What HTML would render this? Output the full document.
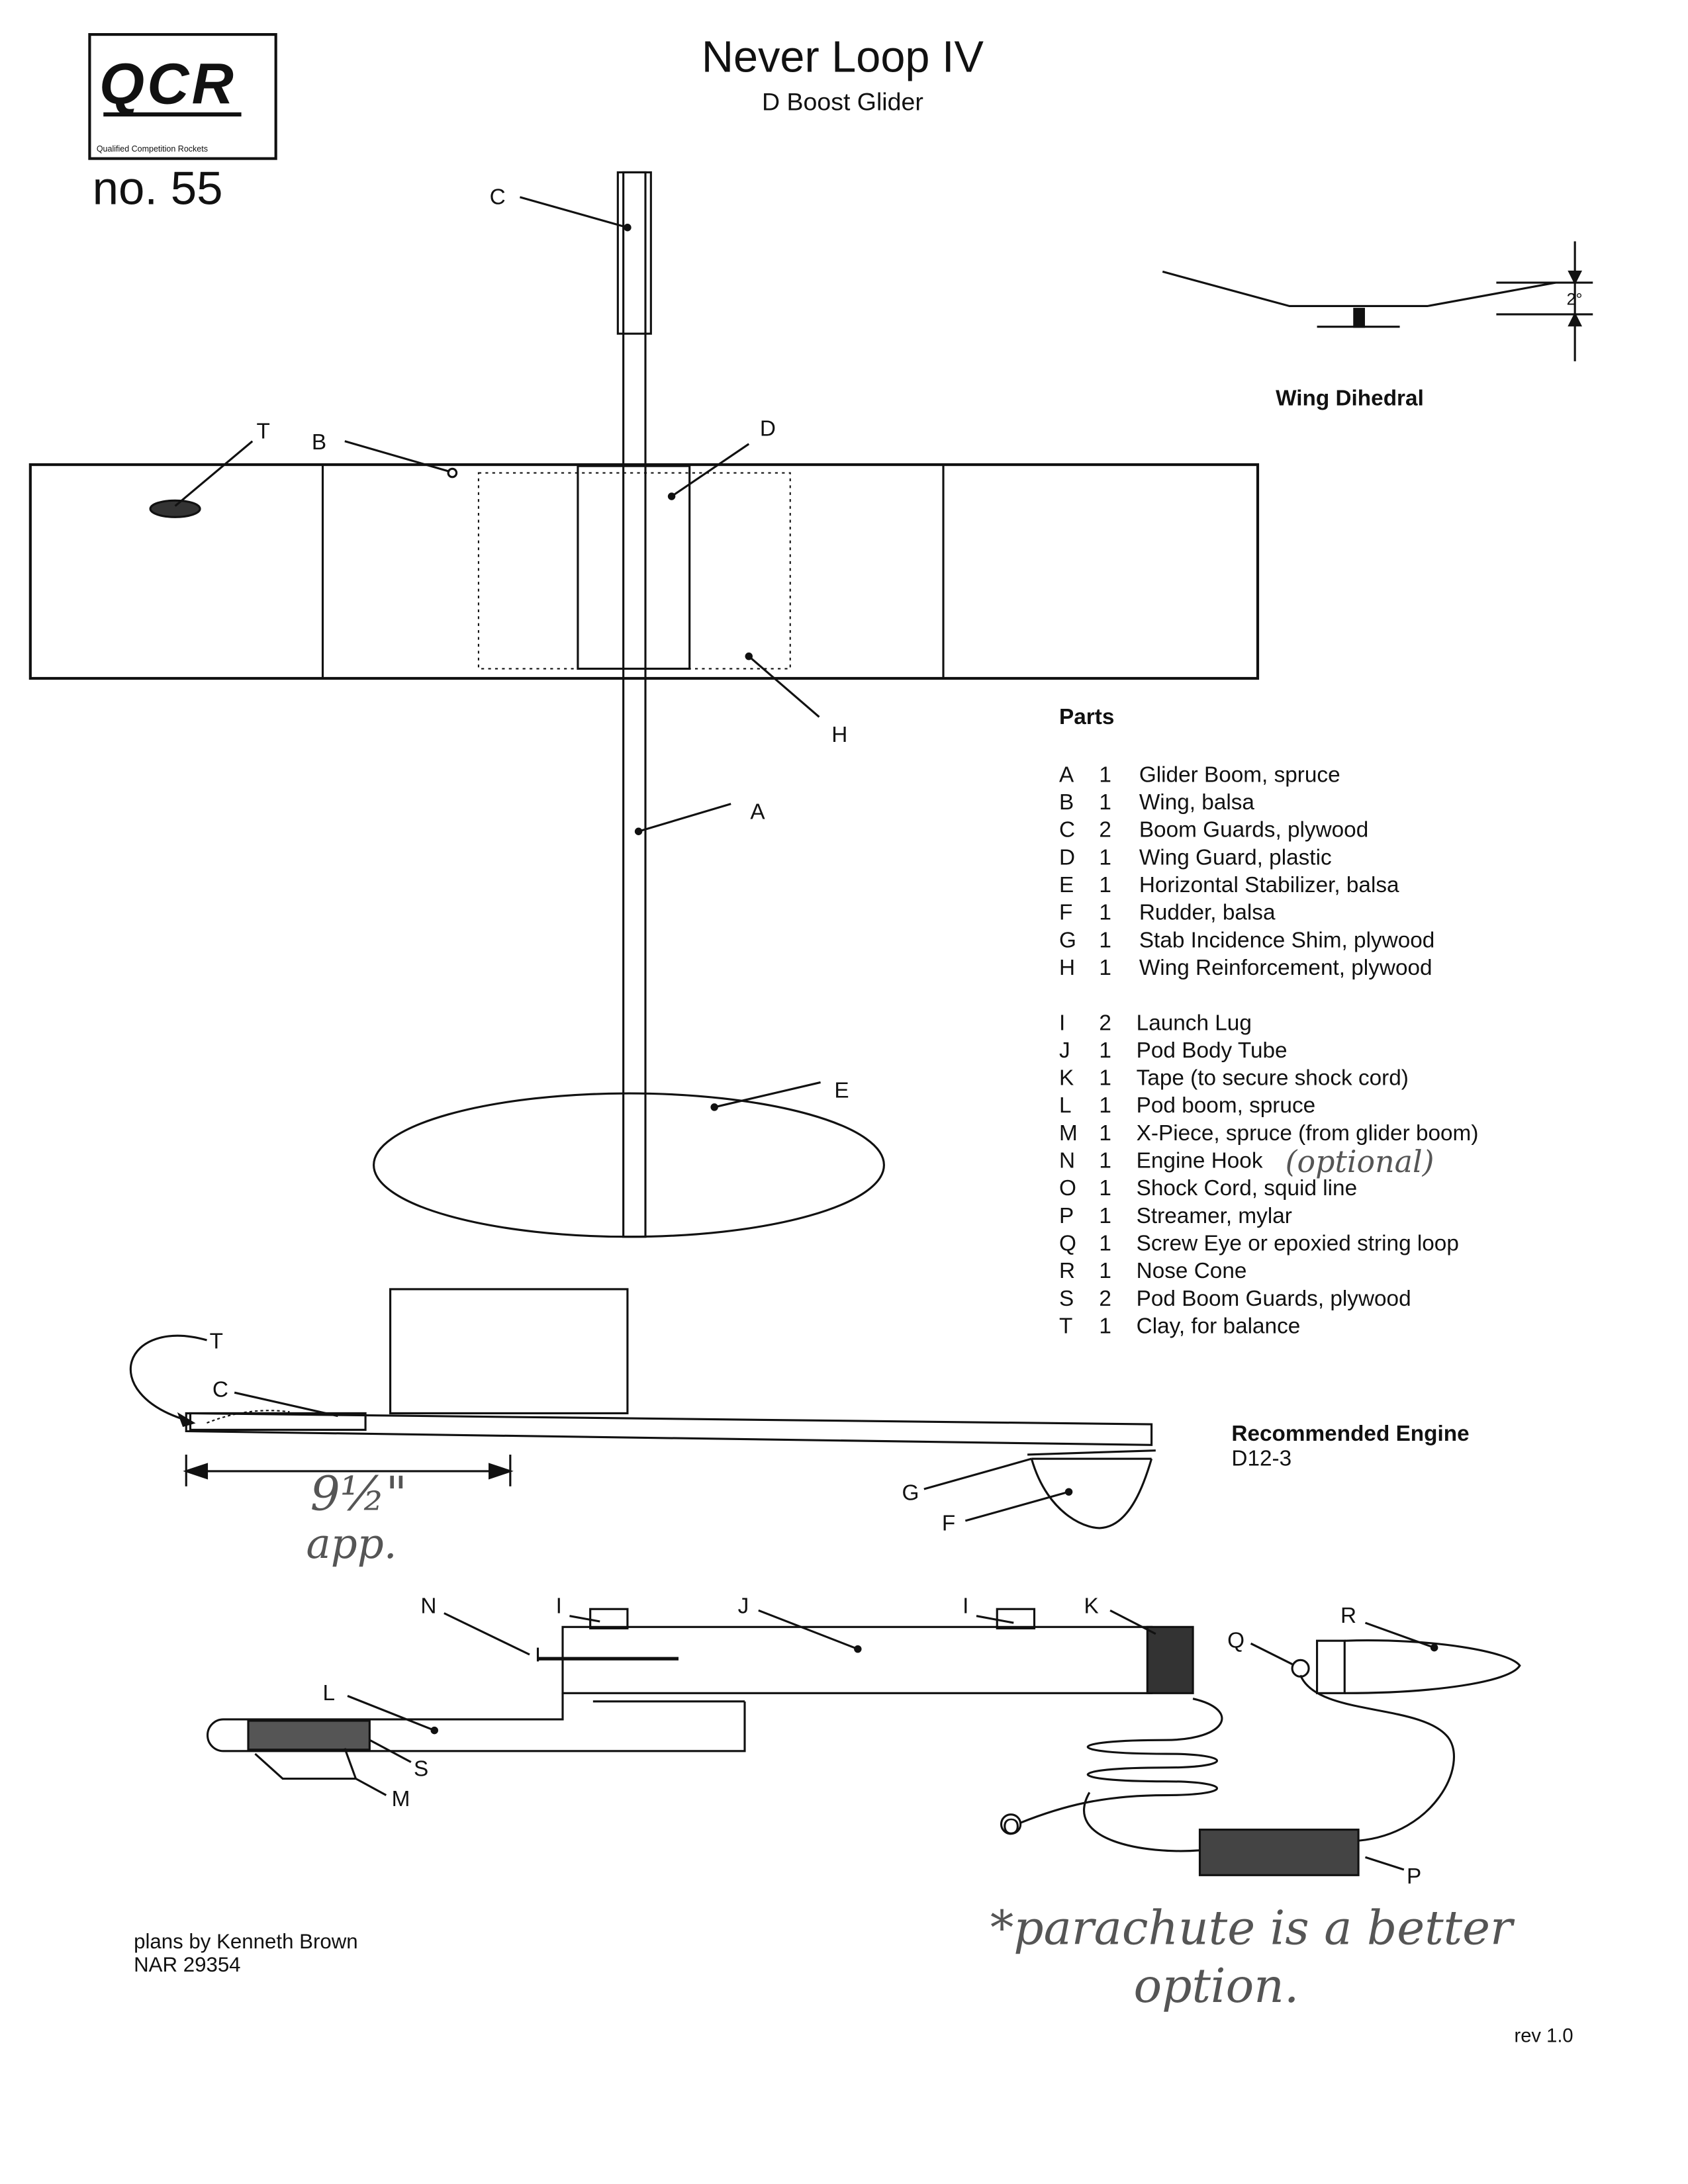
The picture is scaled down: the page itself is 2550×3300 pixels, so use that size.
<!DOCTYPE html>
<html><head><meta charset="utf-8"><style>
html,body{margin:0;padding:0;background:#fff;}
svg{display:block;width:2550px;height:3300px;}
text{font-family:"Liberation Sans",sans-serif;fill:#111;}
.hw{font-family:"DejaVu Serif","Liberation Serif",serif;font-style:italic;fill:#555;}
</style></head><body>
<svg viewBox="0 0 1224 1584" xmlns="http://www.w3.org/2000/svg" stroke="#111" fill="none" stroke-width="1.5">
<rect x="65" y="25" width="135" height="90" stroke-width="2"/>
<text x="72" y="75" font-size="42" font-weight="bold" font-style="italic" stroke="none" letter-spacing="2">QCR</text>
<line x1="75" y1="83" x2="175" y2="83" stroke-width="3"/>
<text x="70" y="110" font-size="6" stroke="none">Qualified Competition Rockets</text>
<text x="67" y="148" font-size="34" stroke="none">no. 55</text>
<text x="611" y="52" font-size="32" text-anchor="middle" stroke="none">Never Loop IV</text>
<text x="611" y="80" font-size="18" text-anchor="middle" stroke="none">D Boost Glider</text>
<rect x="452" y="125" width="16" height="772"/>
<rect x="448" y="125" width="24" height="117"/>
<text x="355" y="148" font-size="16" stroke="none">C</text>
<line x1="377" y1="143" x2="455" y2="165"/><circle cx="455" cy="165" r="2" fill="#111"/>
<polyline points="843,197 935,222 1035,222 1128,205"/>
<rect x="982" y="224" width="7" height="13" fill="#111"/>
<line x1="955" y1="237" x2="1015" y2="237"/>
<line x1="1085" y1="205" x2="1155" y2="205"/><line x1="1085" y1="228" x2="1155" y2="228"/>
<line x1="1142" y1="175" x2="1142" y2="262"/>
<polygon points="1138,197 1146,197 1142,205" fill="#111"/><polygon points="1138,236 1146,236 1142,228" fill="#111"/>
<text x="1136" y="221" font-size="12" stroke="none">2°</text>
<text x="925" y="294" font-size="16" stroke="none" font-weight="bold">Wing Dihedral</text>
<rect x="22" y="337" width="890" height="155" stroke-width="2"/>
<line x1="234" y1="337" x2="234" y2="492"/><line x1="684" y1="337" x2="684" y2="492"/>
<rect x="347" y="343" width="226" height="142" stroke-dasharray="2,3" stroke-width="1"/>
<rect x="419" y="338" width="81" height="147"/>
<ellipse cx="127" cy="369" rx="18" ry="6" fill="#333"/>
<text x="186" y="318" font-size="16" stroke="none">T</text><line x1="183" y1="320" x2="127" y2="367"/>
<text x="226" y="326" font-size="16" stroke="none">B</text><line x1="250" y1="320" x2="326" y2="342"/><circle cx="328" cy="343" r="3"/>
<text x="551" y="316" font-size="16" stroke="none">D</text><line x1="543" y1="322" x2="487" y2="360"/><circle cx="487" cy="360" r="2" fill="#111"/>
<text x="603" y="538" font-size="16" stroke="none">H</text><line x1="594" y1="520" x2="543" y2="476"/><circle cx="543" cy="476" r="2" fill="#111"/>
<text x="544" y="594" font-size="16" stroke="none">A</text><line x1="530" y1="583" x2="463" y2="603"/><circle cx="463" cy="603" r="2" fill="#111"/>
<ellipse cx="456" cy="845" rx="185" ry="52"/>
<text x="605" y="796" font-size="16" stroke="none">E</text><line x1="595" y1="785" x2="518" y2="803"/><circle cx="518" cy="803" r="2" fill="#111"/>
<g stroke="none" font-size="16">
<text x="768" y="525" font-weight="bold">Parts</text>
<text x="768" y="567">A</text><text x="797" y="567">1</text><text x="826" y="567">Glider Boom, spruce</text>
<text x="768" y="587">B</text><text x="797" y="587">1</text><text x="826" y="587">Wing, balsa</text>
<text x="768" y="607">C</text><text x="797" y="607">2</text><text x="826" y="607">Boom Guards, plywood</text>
<text x="768" y="627">D</text><text x="797" y="627">1</text><text x="826" y="627">Wing Guard, plastic</text>
<text x="768" y="647">E</text><text x="797" y="647">1</text><text x="826" y="647">Horizontal Stabilizer, balsa</text>
<text x="768" y="667">F</text><text x="797" y="667">1</text><text x="826" y="667">Rudder, balsa</text>
<text x="768" y="687">G</text><text x="797" y="687">1</text><text x="826" y="687">Stab Incidence Shim, plywood</text>
<text x="768" y="707">H</text><text x="797" y="707">1</text><text x="826" y="707">Wing Reinforcement, plywood</text>
<text x="768" y="747">I</text><text x="797" y="747">2</text><text x="824" y="747">Launch Lug</text>
<text x="768" y="767">J</text><text x="797" y="767">1</text><text x="824" y="767">Pod Body Tube</text>
<text x="768" y="787">K</text><text x="797" y="787">1</text><text x="824" y="787">Tape (to secure shock cord)</text>
<text x="768" y="807">L</text><text x="797" y="807">1</text><text x="824" y="807">Pod boom, spruce</text>
<text x="768" y="827">M</text><text x="797" y="827">1</text><text x="824" y="827">X-Piece, spruce (from glider boom)</text>
<text x="768" y="847">N</text><text x="797" y="847">1</text><text x="824" y="847">Engine Hook</text>
<text x="768" y="867">O</text><text x="797" y="867">1</text><text x="824" y="867">Shock Cord, squid line</text>
<text x="768" y="887">P</text><text x="797" y="887">1</text><text x="824" y="887">Streamer, mylar</text>
<text x="768" y="907">Q</text><text x="797" y="907">1</text><text x="824" y="907">Screw Eye or epoxied string loop</text>
<text x="768" y="927">R</text><text x="797" y="927">1</text><text x="824" y="927">Nose Cone</text>
<text x="768" y="947">S</text><text x="797" y="947">2</text><text x="824" y="947">Pod Boom Guards, plywood</text>
<text x="768" y="967">T</text><text x="797" y="967">1</text><text x="824" y="967">Clay, for balance</text>
</g>
<text x="932" y="850" font-size="22" class="hw" stroke="none">(optional)</text>
<rect x="283" y="935" width="172" height="90"/>
<polygon points="135,1025 835,1033 835,1048 135,1038"/>
<rect x="138" y="1025" width="127" height="12"/>
<path d="M150,1032 q30,-12 60,-8" stroke-dasharray="2,2" stroke-width="1"/>
<path d="M135,1030 C70,1010 90,955 150,972"/><polygon points="130,1026 140,1032 133,1034" fill="#111"/>
<text x="152" y="978" font-size="16" stroke="none">T</text>
<text x="154" y="1013" font-size="16" stroke="none">C</text><line x1="170" y1="1010" x2="245" y2="1027"/>
<line x1="135" y1="1067" x2="370" y2="1067"/>
<line x1="135" y1="1055" x2="135" y2="1078"/><line x1="370" y1="1055" x2="370" y2="1078"/>
<polygon points="135,1067 150,1062 150,1072" fill="#111"/><polygon points="370,1067 355,1062 355,1072" fill="#111"/>
<text x="225" y="1095" font-size="34" class="hw" stroke="none">9½"</text>
<text x="222" y="1130" font-size="30" class="hw" stroke="none">app.</text>
<path d="M745,1055 L838,1052 M748,1058 L835,1058"/>
<path d="M748,1058 C760,1100 790,1110 800,1108 C820,1105 830,1075 835,1058"/>
<text x="654" y="1088" font-size="16" stroke="none">G</text><line x1="670" y1="1080" x2="748" y2="1058"/>
<text x="683" y="1110" font-size="16" stroke="none">F</text><line x1="700" y1="1103" x2="775" y2="1082"/><circle cx="775" cy="1082" r="2" fill="#111"/>
<text x="893" y="1045" font-size="16" stroke="none" font-weight="bold">Recommended Engine</text>
<text x="893" y="1063" font-size="16" stroke="none">D12-3</text>
<rect x="408" y="1180" width="427" height="48"/>
<rect x="832" y="1180" width="33" height="48" fill="#333"/>
<rect x="428" y="1167" width="27" height="14"/><rect x="723" y="1167" width="27" height="14"/>
<line x1="390" y1="1203" x2="492" y2="1203" stroke-width="2.5"/><line x1="390" y1="1195" x2="390" y2="1205"/>
<line x1="430" y1="1234" x2="540" y2="1234"/>
<path d="M408,1228 L408,1247 L162,1247 A11.5,11.5 0 0 0 162,1270 L540,1270 L540,1234"/>
<rect x="180" y="1248" width="88" height="21" fill="#555"/>
<text x="305" y="1170" font-size="16" stroke="none">N</text><line x1="322" y1="1170" x2="384" y2="1200"/>
<text x="403" y="1170" font-size="16" stroke="none">I</text><line x1="413" y1="1172" x2="435" y2="1176"/>
<text x="535" y="1170" font-size="16" stroke="none">J</text><line x1="550" y1="1168" x2="622" y2="1196"/><circle cx="622" cy="1196" r="2" fill="#111"/>
<text x="698" y="1170" font-size="16" stroke="none">I</text><line x1="708" y1="1172" x2="735" y2="1177"/>
<text x="786" y="1170" font-size="16" stroke="none">K</text><line x1="805" y1="1168" x2="838" y2="1185"/>
<text x="234" y="1233" font-size="16" stroke="none">L</text><line x1="252" y1="1230" x2="315" y2="1255"/><circle cx="315" cy="1255" r="2" fill="#111"/>
<text x="300" y="1288" font-size="16" stroke="none">S</text><line x1="298" y1="1278" x2="268" y2="1262"/>
<text x="284" y="1310" font-size="16" stroke="none">M</text>
<polyline points="280,1302 258,1290 205,1290 185,1272"/><line x1="258" y1="1290" x2="250" y2="1268"/>
<path d="M865,1232 C900,1240 890,1262 845,1262 C770,1262 770,1272 845,1272 C895,1272 895,1282 845,1282 C770,1282 770,1292 845,1292 C895,1292 895,1302 845,1302 C800,1302 770,1310 740,1322"/>
<circle cx="733" cy="1323" r="7"/>
<path d="M790,1300 C770,1335 830,1345 870,1342"/>
<rect x="870" y="1327" width="115" height="33" fill="#444"/>
<path d="M985,1335 C1040,1330 1065,1280 1050,1260 C1030,1235 955,1245 943,1215"/>
<circle cx="943" cy="1210" r="6"/>
<rect x="955" y="1190" width="20" height="38"/>
<path d="M975,1190 C1040,1188 1095,1198 1102,1208 C1095,1220 1040,1228 975,1228"/>
<text x="890" y="1195" font-size="16" stroke="none">Q</text><line x1="907" y1="1192" x2="937" y2="1207"/>
<text x="972" y="1177" font-size="16" stroke="none">R</text><line x1="990" y1="1177" x2="1040" y2="1195"/><circle cx="1040" cy="1195" r="2" fill="#111"/>
<text x="1020" y="1366" font-size="16" stroke="none">P</text><line x1="1018" y1="1356" x2="990" y2="1347"/>
<text x="727" y="1330" font-size="16" stroke="none">O</text>
<text x="97" y="1413" font-size="15" stroke="none">plans by Kenneth Brown</text>
<text x="97" y="1430" font-size="15" stroke="none">NAR 29354</text>
<text x="718" y="1410" font-size="34" class="hw" stroke="none">*parachute is a better</text>
<text x="822" y="1452" font-size="34" class="hw" stroke="none">option.</text>
<text x="1098" y="1481" font-size="14" stroke="none">rev 1.0</text>
</svg>
</body></html>
